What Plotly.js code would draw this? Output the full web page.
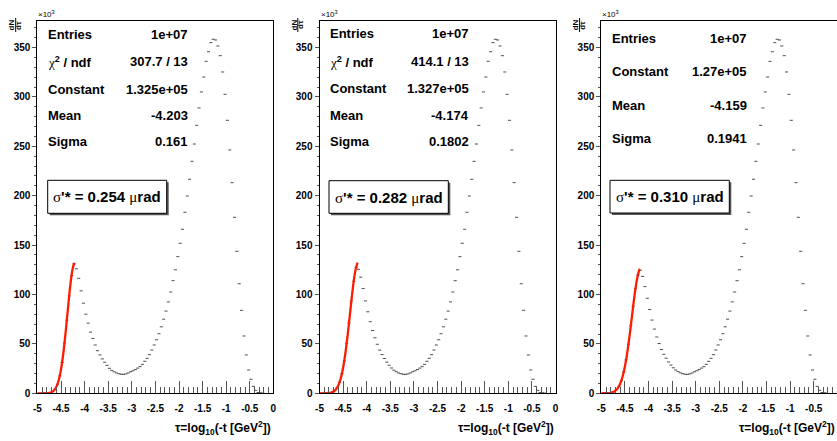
<!DOCTYPE html>
<html><head><meta charset="utf-8">
<script src="https://cdn.plot.ly/plotly-3.0.1.min.js"></script>
<style>html,body{margin:0;padding:0;overflow:hidden;background:#fff}#c{width:838px;height:441px}</style>
</head><body><div id="c"></div><script>
// ---- data (counts in units of 10^3) ----
const tau = [-4.975,-4.925,-4.875,-4.825,-4.775,-4.725,-4.675,-4.625,-4.575,-4.525,-4.475,-4.425,-4.375,-4.325,-4.275,-4.225,-4.175,-4.125,-4.075,-4.025,-3.975,-3.925,-3.875,-3.825,-3.775,-3.725,-3.675,-3.625,-3.575,-3.525,-3.475,-3.425,-3.375,-3.325,-3.275,-3.225,-3.175,-3.125,-3.075,-3.025,-2.975,-2.925,-2.875,-2.825,-2.775,-2.725,-2.675,-2.625,-2.575,-2.525,-2.475,-2.425,-2.375,-2.325,-2.275,-2.225,-2.175,-2.125,-2.075,-2.025,-1.975,-1.925,-1.875,-1.825,-1.775,-1.725,-1.675,-1.625,-1.575,-1.525,-1.475,-1.425,-1.375,-1.325,-1.275,-1.225,-1.175,-1.125,-1.075,-1.025,-0.975,-0.925,-0.875,-0.825,-0.775,-0.725,-0.675,-0.625,-0.575,-0.525,-0.475,-0.425,-0.375,-0.325,-0.275,-0.225,-0.175,-0.125,-0.075,-0.025];

const counts1 = [0,0,0.03,0.08,0.25,0.7,1.8,4.3,9.1,17.6,31.2,51,74,98.5,119,131,
126,116.4,103.7,91.2,80.1,71,61.9,55.5,48.9,43.1,38.8,34.8,31.4,28.3,25.3,23.2,21.8,20.6,19.8,19.3,
19.2,19.6,20.6,21.8,22.8,24.0,25.5,27.0,29.3,32.4,35.4,39.1,43.8,48.9,54.2,60.3,67.3,75.0,83.2,92.5,
102.5,114.0,125.0,138.3,151.8,166,183.2,199.7,216.6,234.8,252.3,271.2,288.8,305,320.1,336,345.7,354.9,358.3,357.6,
351.5,341.7,325.2,302.6,276.3,246.3,213.2,178.1,143.7,110.9,84.0,58.0,38.8,23.6,14.2,7.0,3.0,0.8,0.5,0.2,null,null,null,null];

const counts2 = [0.007,0.02,0.07,0.2,0.51,1.2,2.8,5.8,11.2,19.9,32.9,50.3,71.3,93.5,113.4,127.5,
125.5,117.5,106,93.5,82.5,72.5,63.5,56.2,49.6,43.7,39.2,35.2,31.6,28.4,25.6,23.4,21.9,20.6,19.8,19.3,
19.2,19.6,20.6,21.8,22.8,24.0,25.5,27.0,29.3,32.4,35.4,39.1,43.8,48.9,54.2,60.3,67.3,75.0,83.2,92.5,
102.5,114.0,125.0,138.3,151.8,166,183.2,199.7,216.6,234.8,252.3,271.2,288.8,305,320.1,336,345.7,354.9,358.3,357.6,
351.5,341.7,325.2,302.6,276.3,246.3,213.2,178.1,143.7,110.9,84.0,58.0,38.8,23.6,14.2,7.0,3.0,0.8,0.5,0.2,null,null,null,null];

const counts3 = [0.018,0.05,0.14,0.35,0.82,1.8,3.7,7.1,12.8,21.5,33.8,49.7,68.4,88.1,106.2,119.8,
124.5,118.3,108,96.2,84.8,74.1,65,57,50.4,44.3,39.5,35.5,31.7,28.5,25.8,23.6,22,20.7,19.8,19.3,
19.2,19.6,20.6,21.8,22.8,24.0,25.5,27.0,29.3,32.4,35.4,39.1,43.8,48.9,54.2,60.3,67.3,75.0,83.2,92.5,
102.5,114.0,125.0,138.3,151.8,166,183.2,199.7,216.6,234.8,252.3,271.2,288.8,305,320.1,336,345.7,354.9,358.3,357.6,
351.5,341.7,325.2,302.6,276.3,246.3,213.2,178.1,143.7,110.9,84.0,58.0,38.8,23.6,14.2,7.0,3.0,0.8,0.5,0.2,null,null,null,null];

// Gaussian fit curves
const fitX1 = [-5,-4.95,-4.9,-4.85,-4.8,-4.75,-4.7,-4.65,-4.6,-4.55,-4.5,-4.45,-4.4,-4.35,-4.3,-4.25,-4.215];
const fitY1 = [0,0.003,0.011,0.04,0.14,0.41,1.1,2.8,6.3,13.0,24.2,40.8,62.7,87.3,110.5,126.9,132.1];
const fitX2 = [-5,-4.95,-4.9,-4.85,-4.8,-4.75,-4.7,-4.65,-4.6,-4.55,-4.5,-4.45,-4.4,-4.35,-4.3,-4.25,-4.2,-4.19];
const fitY2 = [0,0.01,0.04,0.12,0.32,0.8,1.9,4.0,8.1,15.0,25.9,41.1,60.5,82.3,103.9,121.4,131.3,132.2];
const fitX3 = [-5,-4.95,-4.9,-4.85,-4.8,-4.75,-4.7,-4.65,-4.6,-4.55,-4.5,-4.45,-4.4,-4.35,-4.3,-4.25,-4.2,-4.185];
const fitY3 = [0.01,0.03,0.087,0.22,0.54,1.2,2.6,5.2,9.6,16.7,27.2,41.2,58.7,78.1,97.5,113.8,124.2,125.9];

const SERIF = 'font-family:Liberation Serif,serif;font-weight:normal';
const chi = '<span style="' + SERIF + '">χ</span><sup>2</sup> / ndf';
const statLabels1 = ['Entries', chi, 'Constant', 'Mean', 'Sigma'];
const statValues1 = ['1e+07','307.7 / 13','1.325e+05','-4.203','0.161'];
const statLabels2 = ['Entries', chi, 'Constant', 'Mean', 'Sigma'];
const statValues2 = ['1e+07','414.1 / 13','1.327e+05','-4.174','0.1802'];
const statLabels3 = ['Entries','Constant','Mean','Sigma'];
const statValues3 = ['1e+07','1.27e+05','-4.159','0.1941'];
const resValues = ['0.254','0.282','0.310'];

const xTickVals = [-5,-4.5,-4,-3.5,-3,-2.5,-2,-1.5,-1,-0.5,0];
const xTickText = ['-5','-4.5','-4','-3.5','-3','-2.5','-2','-1.5','-1','-0.5','0'];
const yTickVals = [0,50,100,150,200,250,300,350];
const yTickText = ['0','50','100','150','200','250','300','350'];

// ---- layout geometry (pixels) ----
const W = 838, H = 441;
const yTop = 20.5, yBot = 393.3;
const panels = [
  {x0:37.4, x1:273.4, labX:46, valX:190, rows:[35,61.7,89.3,116,141.7], box:[47.7,180.3,166.7,213.3],
   counts:counts1, fx:fitX1, fy:fitY1, labs:statLabels1, vals:statValues1},
  {x0:319.5, x1:555.5, labX:327.7, valX:470.7, rows:[33.3,61.7,88.3,115,141], box:[329,180.7,448.3,213.3],
   counts:counts2, fx:fitX2, fy:fitY2, labs:statLabels2, vals:statValues2},
  {x0:601.3, x1:837.3, labX:610, valX:749.3, rows:[39,71.7,105,138.3], box:[610,180.3,729.3,213],
   counts:counts3, fx:fitX3, fy:fitY3, labs:statLabels3, vals:statValues3}
];
const px = v => v / W, py = v => 1 - v / H;
const FONT = 'Liberation Sans, Arial, sans-serif';

const data = [], annotations = [], shapes = [];
const layout = {width:W, height:H, margin:{l:0,r:0,t:0,b:0}, paper_bgcolor:'#fff', plot_bgcolor:'#fff',
  showlegend:false, annotations, shapes};

panels.forEach((p, i) => {
  const n = i === 0 ? '' : String(i + 1);
  const xa = 'x' + n, ya = 'y' + n;
  layout['xaxis' + n] = {domain:[px(p.x0), px(p.x1)], range:[-5, 0], anchor:ya,
    tickvals:xTickVals, ticktext:xTickText, ticks:'inside', ticklen:12, tickwidth:1, tickcolor:'#555',
    minor:{ticks:'inside', ticklen:6, dtick:0.1, tick0:-5, tickcolor:'#555', tickwidth:1},
    ticklabelstandoff:6,
    showline:true, linecolor:'#000', linewidth:1, mirror:true, showgrid:false, zeroline:false,
    tickfont:{family:FONT, size:10, color:'#000', weight:700}, fixedrange:true};
  layout['yaxis' + n] = {domain:[py(yBot), py(yTop)], range:[0, 377.3], anchor:xa,
    tickvals:yTickVals, ticktext:yTickText, ticks:'outside', ticklen:4, tickwidth:1, tickcolor:'#555',
    minor:{ticks:'outside', ticklen:2, dtick:10, tick0:0, tickcolor:'#555', tickwidth:1},
    showline:true, linecolor:'#000', linewidth:1, mirror:true, showgrid:false, zeroline:false,
    tickfont:{family:FONT, size:10, color:'#000', weight:700}, fixedrange:true};

  data.push({type:'scatter', mode:'markers', x:tau, y:p.counts, xaxis:xa, yaxis:ya,
    marker:{symbol:'line-ew', size:2.2, color:'#222', line:{width:0.8, color:'#222'}}, cliponaxis:true});
  data.push({type:'scatter', mode:'lines', x:p.fx, y:p.fy, xaxis:xa, yaxis:ya,
    line:{color:'#ff1a00', width:2.3, shape:'spline'}});

  // stats text
  p.labs.forEach((t, k) => {
    annotations.push({xref:'paper', yref:'paper', x:px(p.labX), y:py(p.rows[k]), xanchor:'left', yanchor:'middle',
      text:t, showarrow:false, font:{family:FONT, size:13, color:'#000', weight:700}});
    annotations.push({xref:'paper', yref:'paper', x:px(p.valX), y:py(p.rows[k]), xanchor:'right', yanchor:'middle',
      text:p.vals[k], showarrow:false, font:{family:FONT, size:13, color:'#000', weight:700}});
  });
  // resolution box with shadow
  const b = p.box;
  shapes.push({type:'rect', xref:'paper', yref:'paper', x0:px(b[0]+2), x1:px(b[2]+2), y0:py(b[3]+2), y1:py(b[1]+2),
    fillcolor:'#555', line:{width:0}});
  shapes.push({type:'rect', xref:'paper', yref:'paper', x0:px(b[0]), x1:px(b[2]), y0:py(b[3]), y1:py(b[1]),
    fillcolor:'#fff', line:{width:1, color:'#000'}});
  annotations.push({xref:'paper', yref:'paper', x:px((b[0]+b[2])/2), y:py((b[1]+b[3])/2), xanchor:'center', yanchor:'middle',
    text:'<span style="' + SERIF + '">σ</span>\'* = ' + resValues[i] + ' <span style="' + SERIF + '">μ</span>rad',
    showarrow:false, font:{family:FONT, size:15, color:'#000', weight:700}});
  // x10^3
  annotations.push({xref:'paper', yref:'paper', x:px(p.x0 - 1), y:py(14), xanchor:'left', yanchor:'middle',
    text:'×10<sup>3</sup>', showarrow:false, font:{family:FONT, size:8, color:'#000'}});
  // y title dN/dτ (rotated fraction)
  const fx = p.x0 - 25;
  annotations.push({xref:'paper', yref:'paper', x:px(fx), y:py(25), xanchor:'center', yanchor:'middle',
    text:'dN', textangle:-90, showarrow:false, font:{family:FONT, size:8, color:'#000', weight:700}});
  annotations.push({xref:'paper', yref:'paper', x:px(fx + 6.5), y:py(25), xanchor:'center', yanchor:'middle',
    text:'dτ', textangle:-90, showarrow:false, font:{family:FONT, size:8, color:'#000', weight:700}});
  shapes.push({type:'line', xref:'paper', yref:'paper', x0:px(fx + 3.3), x1:px(fx + 3.3), y0:py(18), y1:py(32),
    line:{width:1, color:'#000'}});
  // x title
  annotations.push({xref:'paper', yref:'paper', x:px(p.x1), y:py(428), xanchor:'right', yanchor:'middle',
    text:'τ=log<sub>10</sub>(-t [GeV<sup>2</sup>])', showarrow:false, font:{family:FONT, size:12, color:'#000', weight:700}});
});

Plotly.newPlot('c', data, layout, {staticPlot:true, displayModeBar:false});
</script></body></html>
